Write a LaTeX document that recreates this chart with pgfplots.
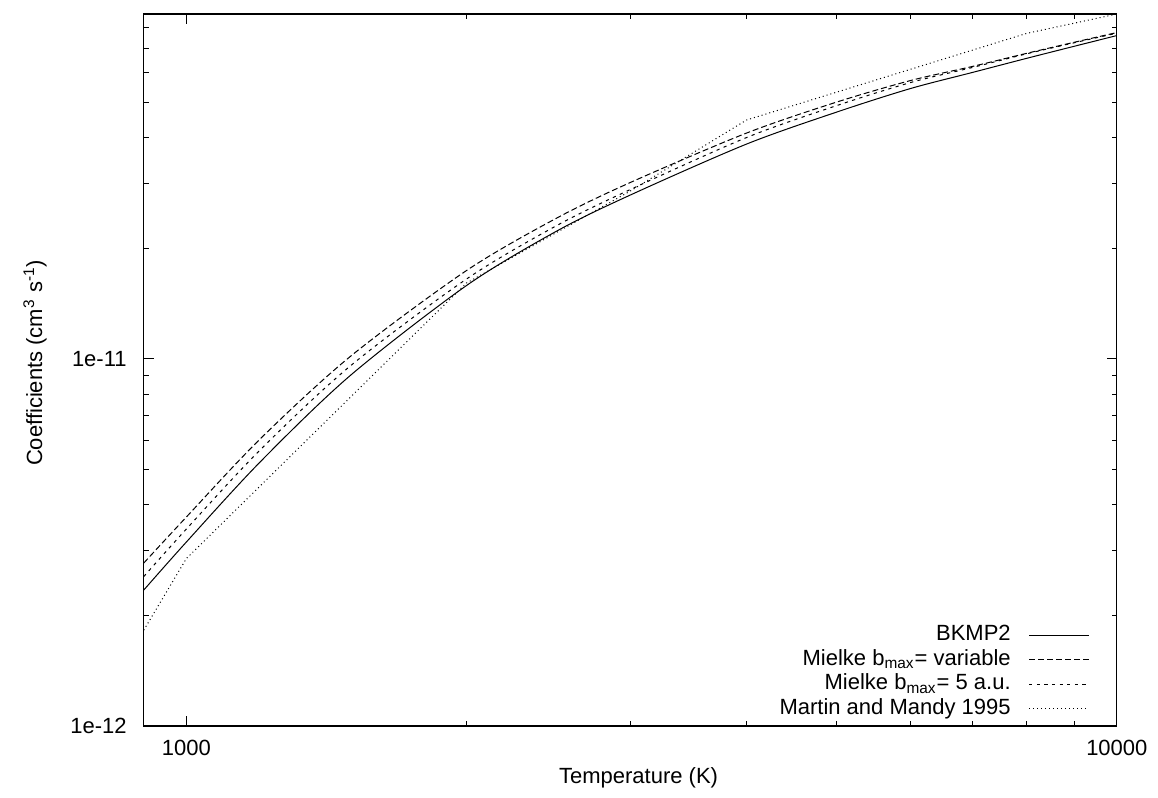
\documentclass[border=0pt]{standalone}
\usepackage{fontspec}
\setmainfont{Liberation Sans}
\usepackage{pgfplots}
\pgfplotsset{compat=1.18}
\begin{document}
\begin{tikzpicture}
\useasboundingbox (-71.85pt,-35.5pt) rectangle (507.1pt,363pt);
\begin{axis}[
  at={(0,0)}, anchor=south west,
  scale only axis, width=486.5pt, height=356pt,
  xmode=log, ymode=log,
  xmin=900, xmax=10000, ymin=1e-12, ymax=8.68e-11,
  font=\fontsize{11}{13.2}\selectfont,
  axis line style={line width=0.65pt},
  tick align=inside,
  major tick length=5pt, minor tick length=2.5pt,
  every tick/.style={black, line width=0.5pt},
  xtick={1000,10000}, xticklabels={1000,10000},
  minor xtick={2000,3000,4000,5000,6000,7000,8000,9000},
  ytick={1e-12,1e-11}, yticklabels={1e-12,1e-11},
  minor ytick={2e-12,3e-12,4e-12,5e-12,6e-12,7e-12,8e-12,9e-12,2e-11,3e-11,4e-11,5e-11,6e-11,7e-11,8e-11},
  xticklabel style={inner sep=0pt, anchor=north, yshift=-7pt},
  yticklabel style={inner sep=0pt, anchor=east, xshift=-8.35pt},
  xlabel={Temperature (K)},
  ylabel={Coefficients (cm\textsuperscript{3} s\textsuperscript{-1})},
  xlabel style={at={(axis description cs:0.5085,-0.0730)}, anchor=center, inner sep=0pt},
  ylabel style={at={(axis description cs:-0.1117,0.51)}, anchor=center, inner sep=0pt},
  legend cell align=right, legend plot pos=right,
  legend style={at={(axis description cs:0.9725,0.0084)}, anchor=south east, draw=none, fill=none,
    inner sep=0pt, column sep=9pt, row sep=1.5pt,
    nodes={inner sep=0pt, text height=8.2pt, text depth=2.6pt},
    font=\fontsize{11}{13.2}\selectfont},
  legend image code/.code={\draw[#1] (0pt,0pt) -- (30pt,0pt);},
]
\addplot[black, line width=0.5pt, smooth] coordinates {
(900,2.346e-12) (1000,3.170e-12) (1200,5.233e-12) (1500,9.00e-12) (2000,1.582e-11)
(2500,2.226e-11) (3000,2.791e-11) (4000,3.842e-11) (5000,4.695e-11) (6000,5.440e-11)
(7000,6.021e-11) (8000,6.576e-11) (9000,7.093e-11) (10000,7.585e-11)};
\addlegendentry{BKMP2}
\addplot[black, line width=0.5pt, smooth, dash pattern=on 3pt off 1.5pt] coordinates {
(900,2.779e-12) (1000,3.708e-12) (1200,6.045e-12) (1500,1.0139e-11) (2000,1.738e-11)
(2500,2.415e-11) (3000,3.019e-11) (4000,4.116e-11) (5000,4.999e-11) (6000,5.720e-11)
(7000,6.252e-11) (8000,6.785e-11) (9000,7.273e-11) (10000,7.729e-11)};
\addlegendentry{Mielke b\textsubscript{max}= variable}
\addplot[black, line width=0.5pt, smooth, dash pattern=on 1.6pt off 2.2pt] coordinates {
(900,2.553e-12) (1000,3.439e-12) (1200,5.642e-12) (1500,9.553e-12) (2000,1.648e-11)
(2500,2.304e-11) (3000,2.889e-11) (4000,4.002e-11) (5000,4.890e-11) (6000,5.648e-11)
(7000,6.212e-11) (8000,6.764e-11) (9000,7.25e-11) (10000,7.70e-11)};
\addlegendentry{Mielke b\textsubscript{max}= 5 a.u.}
\addplot[black, line width=0.5pt, dash pattern=on 0.5pt off 1.5pt] coordinates {
(900,1.825e-12) (1000,2.858e-12) (2000,1.607e-11) (3000,2.862e-11) (4000,4.467e-11)
(8000,7.69e-11) (10000,8.68e-11)};
\addlegendentry{Martin and Mandy 1995}
\end{axis}
\end{tikzpicture}
\end{document}
